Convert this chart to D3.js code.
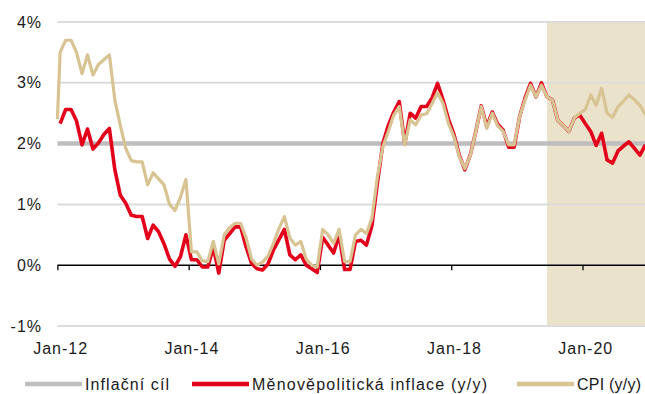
<!DOCTYPE html>
<html>
<head>
<meta charset="utf-8">
<script src="https://cdn.jsdelivr.net/npm/d3@7"></script>
<style>
  html, body { margin: 0; padding: 0; background: #fff; }
  svg { display: block; font-family: "Liberation Sans", Arial, sans-serif; }
</style>
</head>
<body>
<svg id="chart" width="645" height="394"></svg>
<script>
// Monthly series, January 2012 to December 2020 (y/y, %)
const firstMonth = "2012-01";

// CPI reading the line opens with at the left edge of the axis
const cpiOpening = 2.4;

const cpi = [
  3.50, 3.70, 3.70, 3.50, 3.15, 3.46, 3.13, 3.30, 3.38, 3.46, 2.72, 2.30,
  1.92, 1.72, 1.70, 1.70, 1.32, 1.52, 1.42, 1.32, 1.00, 0.90, 1.12, 1.41,
  0.22, 0.22, 0.07, 0.06, 0.39, 0.02, 0.50, 0.62, 0.69, 0.69, 0.45, 0.10,
  0.00, 0.05, 0.15, 0.36, 0.60, 0.80, 0.45, 0.33, 0.39, 0.10, 0.00, -0.03,
  0.59, 0.50, 0.36, 0.59, 0.06, 0.06, 0.50, 0.59, 0.52, 0.77, 1.45, 1.95,
  2.20, 2.47, 2.61, 1.98, 2.39, 2.31, 2.47, 2.49, 2.66, 2.84, 2.66, 2.33,
  2.11, 1.78, 1.59, 1.81, 2.20, 2.61, 2.25, 2.50, 2.29, 2.20, 1.98, 1.98,
  2.44, 2.72, 2.96, 2.77, 2.96, 2.77, 2.72, 2.38, 2.30, 2.20, 2.42, 2.50,
  2.56, 2.80, 2.63, 2.91, 2.50, 2.43, 2.61, 2.70, 2.80, 2.72, 2.63, 2.47
];

const monetaryPolicyInflation = [
  2.33, 2.56, 2.56, 2.37, 1.98, 2.24, 1.91, 2.01, 2.15, 2.25, 1.57, 1.15,
  1.02, 0.82, 0.80, 0.80, 0.44, 0.66, 0.55, 0.35, 0.10, -0.02, 0.14, 0.50,
  0.09, 0.09, -0.03, -0.03, 0.30, -0.13, 0.41, 0.52, 0.63, 0.63, 0.30, 0.03,
  -0.06, -0.08, 0.02, 0.25, 0.42, 0.59, 0.17, 0.09, 0.17, 0.00, -0.06, -0.12,
  0.46, 0.33, 0.20, 0.50, -0.07, -0.07, 0.39, 0.41, 0.33, 0.65, 1.35, 2.00,
  2.30, 2.52, 2.69, 2.00, 2.50, 2.42, 2.61, 2.61, 2.75, 2.99, 2.72, 2.40,
  2.15, 1.80, 1.57, 1.82, 2.20, 2.62, 2.28, 2.52, 2.32, 2.22, 1.94, 1.94,
  2.44, 2.75, 2.99, 2.77, 3.00, 2.77, 2.72, 2.38, 2.30, 2.20, 2.42, 2.47,
  2.33, 2.20, 1.97, 2.17, 1.73, 1.68, 1.88, 1.96, 2.03, 1.92, 1.81, 1.98
];

// CNB inflation target (%)
const inflationTarget = [2];

// Last month of actual data; the forecast area is shaded from here on
const lastActualMonth = "2019-06";

const yTickValues = [-1, 0, 1, 2, 3, 4];
const xTickLabels = ["Jan-12", "Jan-14", "Jan-16", "Jan-18", "Jan-20"];
const seriesNames = ["Inflační cíl", "Měnověpolitická inflace (y/y)", "CPI (y/y)"];

const colors = {
  target: "#bfbebe",
  mp: "#e3001b",
  cpi: "#d8c392",
  grid: "#dcdcdc",
  shade: "#ebe2cc",
  text: "#1a1a1a"
};

const W = 645;
const fontSize = 16;
const letterSpacing = 1.0;

const svg = d3.select("#chart");
const parseMonth = d3.timeParse("%Y-%m");
const parseTick = d3.timeParse("%b-%y");
const start = parseMonth(firstMonth);
const monthIndex = date => d3.timeMonth.count(start, date);

// Category axis: one slot per month, ticks on the slot boundaries
const x = d3.scaleLinear()
  .domain([-0.5, cpi.length - 1])
  .range([57.4, 645.4]);
const plotLeft = x(-0.5);

const y = d3.scaleLinear()
  .domain([-1, 4])
  .range([326, 22]);

// Forecast shading
const shadeStart = x(monthIndex(parseMonth(lastActualMonth)));
svg.append("rect")
  .attr("x", shadeStart)
  .attr("y", y(4))
  .attr("width", W - shadeStart)
  .attr("height", y(-1) - y(4) + 1)
  .attr("fill", colors.shade);

// Horizontal gridlines
svg.append("g")
  .selectAll("line")
  .data(yTickValues.filter(v => v !== 0 && v !== 2))
  .join("line")
  .attr("x1", plotLeft)
  .attr("x2", W)
  .attr("y1", d => y(d))
  .attr("y2", d => y(d))
  .attr("stroke", colors.grid)
  .attr("stroke-width", 2);

// Y axis labels
const yAxis = d3.axisLeft(y)
  .tickValues(yTickValues)
  .tickFormat(d => d + "%")
  .tickSize(0)
  .tickPadding(0);
const yg = svg.append("g")
  .attr("transform", "translate(42,0)")
  .call(yAxis);
yg.select(".domain").remove();
yg.selectAll("text")
  .attr("font-size", fontSize)
  .attr("font-family", "Liberation Sans, Arial, sans-serif")
  .attr("fill", colors.text)
  .attr("letter-spacing", letterSpacing);

// Inflation target line
svg.append("g")
  .selectAll("line")
  .data(inflationTarget)
  .join("line")
  .attr("x1", plotLeft)
  .attr("x2", W)
  .attr("y1", d => y(d))
  .attr("y2", d => y(d))
  .attr("stroke", colors.target)
  .attr("stroke-width", 4.5);

// Zero axis with biennial ticks on the January slot boundaries
const tickIdx = xTickLabels.map(s => monthIndex(parseTick(s)));
const zeroAxis = d3.axisBottom(x)
  .tickValues(tickIdx.map(i => i - 0.5))
  .tickFormat("")
  .tickSizeInner(5)
  .tickSizeOuter(0);
const zg = svg.append("g")
  .attr("transform", `translate(0,${y(0)})`)
  .call(zeroAxis);
zg.select(".domain")
  .attr("d", `M${plotLeft},0H${W}`)
  .attr("stroke", "#000")
  .attr("stroke-width", 1.6);
zg.selectAll(".tick line").attr("stroke", "#000").attr("stroke-width", 1.3);

// Date labels
const labelAxis = d3.axisBottom(x)
  .tickValues(tickIdx)
  .tickFormat((d, i) => xTickLabels[i])
  .tickSize(0)
  .tickPadding(0);
const lg = svg.append("g")
  .attr("transform", "translate(0,343)")
  .call(labelAxis);
lg.select(".domain").remove();
lg.selectAll("text")
  .attr("font-size", fontSize)
  .attr("font-family", "Liberation Sans, Arial, sans-serif")
  .attr("fill", colors.text)
  .attr("letter-spacing", letterSpacing);

// Series lines
const line = d3.line()
  .x(d => x(d.i))
  .y(d => y(d.value))
  .curve(d3.curveLinear);

const mpPoints = monetaryPolicyInflation.map((v, i) => ({ i, value: v }));
const cpiPoints = [{ i: -0.5, value: cpiOpening }]
  .concat(cpi.map((v, i) => ({ i, value: v })));

svg.append("path")
  .datum(mpPoints)
  .attr("d", line)
  .attr("fill", "none")
  .attr("stroke", colors.mp)
  .attr("stroke-width", 3.6)
  .attr("stroke-linejoin", "round");

svg.append("path")
  .datum(cpiPoints)
  .attr("d", line)
  .attr("fill", "none")
  .attr("stroke", colors.cpi)
  .attr("stroke-width", 3.2)
  .attr("stroke-linejoin", "round");

// Legend
const legendItems = [
  { name: seriesNames[0], color: colors.target, x0: 25, textWidth: 84 },
  { name: seriesNames[1], color: colors.mp, x0: 192, textWidth: 235 },
  { name: seriesNames[2], color: colors.cpi, x0: 517, textWidth: 64 }
];
const legendY = 384;
const lgd = svg.append("g");
legendItems.forEach(item => {
  lgd.append("line")
    .attr("x1", item.x0)
    .attr("x2", item.x0 + 57)
    .attr("y1", legendY)
    .attr("y2", legendY)
    .attr("stroke", item.color)
    .attr("stroke-width", 4.5);
  lgd.append("text")
    .attr("x", item.x0 + 60)
    .attr("y", legendY)
    .attr("dy", "0.35em")
    .attr("font-size", fontSize)
    .attr("fill", colors.text)
    .attr("textLength", item.textWidth)
    .attr("lengthAdjust", "spacing")
    .text(item.name);
});
</script>
</body>
</html>
